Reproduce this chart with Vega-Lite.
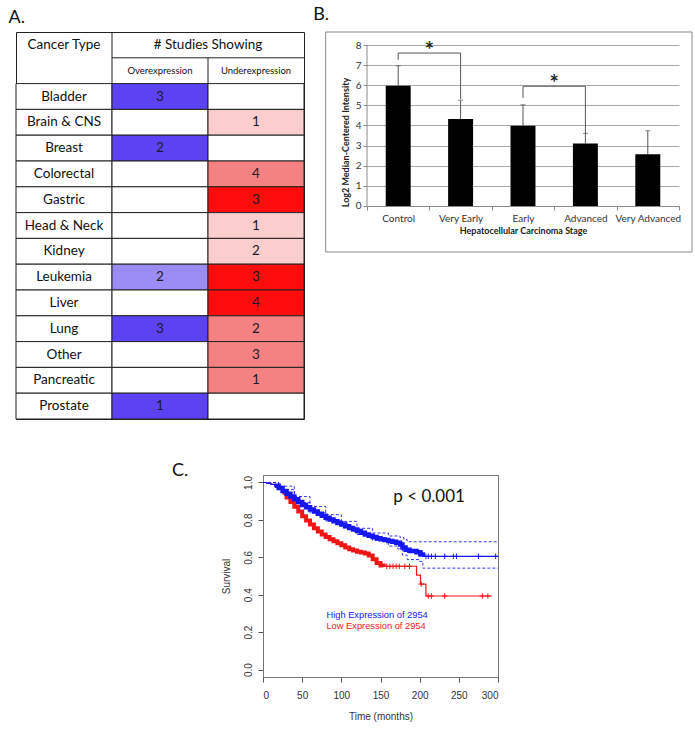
{
  "$schema": "https://vega.github.io/schema/vega-lite/v6.json",
  "background": "white",
  "padding": {"left": 8, "top": 5, "right": 0, "bottom": 0},
  "config": {"view": {"stroke": null}, "font": "Lato", "concat": {"spacing": 0}},
  "datasets": {
    "table": [
      {"type": "Bladder", "col": "Cancer Type", "n": null, "shade": "None"},
      {"type": "Bladder", "col": "Overexpression", "n": 3, "shade": "Over strong"},
      {"type": "Bladder", "col": "Underexpression", "n": null, "shade": "None"},
      {"type": "Brain & CNS", "col": "Cancer Type", "n": null, "shade": "None"},
      {"type": "Brain & CNS", "col": "Overexpression", "n": null, "shade": "None"},
      {"type": "Brain & CNS", "col": "Underexpression", "n": 1, "shade": "Under weak"},
      {"type": "Breast", "col": "Cancer Type", "n": null, "shade": "None"},
      {"type": "Breast", "col": "Overexpression", "n": 2, "shade": "Over strong"},
      {"type": "Breast", "col": "Underexpression", "n": null, "shade": "None"},
      {"type": "Colorectal", "col": "Cancer Type", "n": null, "shade": "None"},
      {"type": "Colorectal", "col": "Overexpression", "n": null, "shade": "None"},
      {"type": "Colorectal", "col": "Underexpression", "n": 4, "shade": "Under moderate"},
      {"type": "Gastric", "col": "Cancer Type", "n": null, "shade": "None"},
      {"type": "Gastric", "col": "Overexpression", "n": null, "shade": "None"},
      {"type": "Gastric", "col": "Underexpression", "n": 3, "shade": "Under strong"},
      {"type": "Head & Neck", "col": "Cancer Type", "n": null, "shade": "None"},
      {"type": "Head & Neck", "col": "Overexpression", "n": null, "shade": "None"},
      {"type": "Head & Neck", "col": "Underexpression", "n": 1, "shade": "Under weak"},
      {"type": "Kidney", "col": "Cancer Type", "n": null, "shade": "None"},
      {"type": "Kidney", "col": "Overexpression", "n": null, "shade": "None"},
      {"type": "Kidney", "col": "Underexpression", "n": 2, "shade": "Under weak"},
      {"type": "Leukemia", "col": "Cancer Type", "n": null, "shade": "None"},
      {"type": "Leukemia", "col": "Overexpression", "n": 2, "shade": "Over weak"},
      {"type": "Leukemia", "col": "Underexpression", "n": 3, "shade": "Under strong"},
      {"type": "Liver", "col": "Cancer Type", "n": null, "shade": "None"},
      {"type": "Liver", "col": "Overexpression", "n": null, "shade": "None"},
      {"type": "Liver", "col": "Underexpression", "n": 4, "shade": "Under strong"},
      {"type": "Lung", "col": "Cancer Type", "n": null, "shade": "None"},
      {"type": "Lung", "col": "Overexpression", "n": 3, "shade": "Over strong"},
      {"type": "Lung", "col": "Underexpression", "n": 2, "shade": "Under moderate"},
      {"type": "Other", "col": "Cancer Type", "n": null, "shade": "None"},
      {"type": "Other", "col": "Overexpression", "n": null, "shade": "None"},
      {"type": "Other", "col": "Underexpression", "n": 3, "shade": "Under moderate"},
      {"type": "Pancreatic", "col": "Cancer Type", "n": null, "shade": "None"},
      {"type": "Pancreatic", "col": "Overexpression", "n": null, "shade": "None"},
      {"type": "Pancreatic", "col": "Underexpression", "n": 1, "shade": "Under moderate"},
      {"type": "Prostate", "col": "Cancer Type", "n": null, "shade": "None"},
      {"type": "Prostate", "col": "Overexpression", "n": 1, "shade": "Over strong"},
      {"type": "Prostate", "col": "Underexpression", "n": null, "shade": "None"}
    ],
    "headcells": [
      {"label": "Cancer Type", "col": "Cancer Type", "row": "h1", "size": "big"},
      {"label": "Overexpression", "col": "Overexpression", "row": "h2", "size": "small"},
      {"label": "Underexpression", "col": "Underexpression", "row": "h2", "size": "small"}
    ],
    "stages": [
      {"stage": "Control", "mean": 5.98, "upper": 6.97},
      {"stage": "Very Early", "mean": 4.32, "upper": 5.26},
      {"stage": "Early", "mean": 3.99, "upper": 5.03},
      {"stage": "Advanced", "mean": 3.1, "upper": 3.61},
      {"stage": "Very Advanced", "mean": 2.57, "upper": 3.74}
    ],
    "brackets": [
      {"from": "Control", "to": "Very Early", "top": 7.6, "fromEnd": 7.27, "toEnd": 5.32, "mark": "*"},
      {"from": "Early", "to": "Advanced", "top": 5.95, "fromEnd": 5.37, "toEnd": 3.58, "mark": "*"}
    ],
    "km": [
      {"group": "High", "t": 0, "s": 1.0}, {"group": "High", "t": 5, "s": 0.995}, {"group": "High", "t": 10, "s": 0.99},
      {"group": "High", "t": 15, "s": 0.982}, {"group": "High", "t": 20, "s": 0.97}, {"group": "High", "t": 25, "s": 0.955},
      {"group": "High", "t": 30, "s": 0.94}, {"group": "High", "t": 35, "s": 0.925}, {"group": "High", "t": 40, "s": 0.91},
      {"group": "High", "t": 45, "s": 0.895}, {"group": "High", "t": 50, "s": 0.88}, {"group": "High", "t": 55, "s": 0.867},
      {"group": "High", "t": 60, "s": 0.855}, {"group": "High", "t": 65, "s": 0.845}, {"group": "High", "t": 70, "s": 0.833},
      {"group": "High", "t": 75, "s": 0.822}, {"group": "High", "t": 80, "s": 0.812}, {"group": "High", "t": 85, "s": 0.802},
      {"group": "High", "t": 90, "s": 0.793}, {"group": "High", "t": 95, "s": 0.784}, {"group": "High", "t": 100, "s": 0.776},
      {"group": "High", "t": 105, "s": 0.766}, {"group": "High", "t": 110, "s": 0.757}, {"group": "High", "t": 115, "s": 0.748},
      {"group": "High", "t": 120, "s": 0.74}, {"group": "High", "t": 125, "s": 0.731}, {"group": "High", "t": 130, "s": 0.722},
      {"group": "High", "t": 135, "s": 0.715}, {"group": "High", "t": 140, "s": 0.708}, {"group": "High", "t": 145, "s": 0.702},
      {"group": "High", "t": 150, "s": 0.697}, {"group": "High", "t": 155, "s": 0.692}, {"group": "High", "t": 160, "s": 0.687},
      {"group": "High", "t": 165, "s": 0.683}, {"group": "High", "t": 170, "s": 0.678}, {"group": "High", "t": 175, "s": 0.668},
      {"group": "High", "t": 178, "s": 0.652}, {"group": "High", "t": 182, "s": 0.64}, {"group": "High", "t": 187, "s": 0.634},
      {"group": "High", "t": 196, "s": 0.627}, {"group": "High", "t": 201, "s": 0.615}, {"group": "High", "t": 204, "s": 0.605},
      {"group": "High", "t": 300, "s": 0.605},
      {"group": "Low", "t": 0, "s": 1.0}, {"group": "Low", "t": 5, "s": 0.995}, {"group": "Low", "t": 10, "s": 0.99},
      {"group": "Low", "t": 15, "s": 0.98}, {"group": "Low", "t": 20, "s": 0.965}, {"group": "Low", "t": 25, "s": 0.945},
      {"group": "Low", "t": 30, "s": 0.92}, {"group": "Low", "t": 35, "s": 0.895}, {"group": "Low", "t": 40, "s": 0.87},
      {"group": "Low", "t": 45, "s": 0.845}, {"group": "Low", "t": 50, "s": 0.82}, {"group": "Low", "t": 55, "s": 0.797},
      {"group": "Low", "t": 60, "s": 0.775}, {"group": "Low", "t": 65, "s": 0.755}, {"group": "Low", "t": 70, "s": 0.738},
      {"group": "Low", "t": 75, "s": 0.722}, {"group": "Low", "t": 80, "s": 0.708}, {"group": "Low", "t": 85, "s": 0.697},
      {"group": "Low", "t": 90, "s": 0.686}, {"group": "Low", "t": 95, "s": 0.675}, {"group": "Low", "t": 100, "s": 0.665},
      {"group": "Low", "t": 105, "s": 0.652}, {"group": "Low", "t": 110, "s": 0.643}, {"group": "Low", "t": 115, "s": 0.636},
      {"group": "Low", "t": 120, "s": 0.63}, {"group": "Low", "t": 125, "s": 0.625}, {"group": "Low", "t": 130, "s": 0.62},
      {"group": "Low", "t": 135, "s": 0.61}, {"group": "Low", "t": 140, "s": 0.59}, {"group": "Low", "t": 145, "s": 0.57},
      {"group": "Low", "t": 150, "s": 0.556}, {"group": "Low", "t": 154, "s": 0.552}, {"group": "Low", "t": 193, "s": 0.552},
      {"group": "Low", "t": 196, "s": 0.505}, {"group": "Low", "t": 201, "s": 0.457}, {"group": "Low", "t": 208, "s": 0.393},
      {"group": "Low", "t": 292, "s": 0.393}
    ],
    "ci": [
      {"bound": "upper", "t": 0, "s": 1.0}, {"bound": "upper", "t": 20, "s": 0.98}, {"bound": "upper", "t": 40, "s": 0.925},
      {"bound": "upper", "t": 60, "s": 0.872}, {"bound": "upper", "t": 80, "s": 0.828}, {"bound": "upper", "t": 100, "s": 0.792},
      {"bound": "upper", "t": 120, "s": 0.755}, {"bound": "upper", "t": 140, "s": 0.73}, {"bound": "upper", "t": 160, "s": 0.714},
      {"bound": "upper", "t": 175, "s": 0.705}, {"bound": "upper", "t": 180, "s": 0.695}, {"bound": "upper", "t": 184, "s": 0.683},
      {"bound": "upper", "t": 300, "s": 0.683},
      {"bound": "lower", "t": 0, "s": 1.0}, {"bound": "lower", "t": 20, "s": 0.962}, {"bound": "lower", "t": 40, "s": 0.893},
      {"bound": "lower", "t": 60, "s": 0.838}, {"bound": "lower", "t": 80, "s": 0.795}, {"bound": "lower", "t": 100, "s": 0.758},
      {"bound": "lower", "t": 120, "s": 0.722}, {"bound": "lower", "t": 140, "s": 0.69}, {"bound": "lower", "t": 160, "s": 0.66},
      {"bound": "lower", "t": 172, "s": 0.645}, {"bound": "lower", "t": 178, "s": 0.612}, {"bound": "lower", "t": 184, "s": 0.588},
      {"bound": "lower", "t": 200, "s": 0.578}, {"bound": "lower", "t": 204, "s": 0.542}, {"bound": "lower", "t": 300, "s": 0.542}
    ],
    "censor": [
      {"group": "High", "t": 208, "s": 0.605}, {"group": "High", "t": 211, "s": 0.605}, {"group": "High", "t": 215, "s": 0.605},
      {"group": "High", "t": 220, "s": 0.605}, {"group": "High", "t": 232, "s": 0.605}, {"group": "High", "t": 243, "s": 0.605},
      {"group": "High", "t": 247, "s": 0.605}, {"group": "High", "t": 275, "s": 0.605}, {"group": "High", "t": 297, "s": 0.605},
      {"group": "Low", "t": 158, "s": 0.552}, {"group": "Low", "t": 162, "s": 0.552}, {"group": "Low", "t": 166, "s": 0.552},
      {"group": "Low", "t": 170, "s": 0.552}, {"group": "Low", "t": 174, "s": 0.552}, {"group": "Low", "t": 181, "s": 0.552},
      {"group": "Low", "t": 187, "s": 0.552}, {"group": "Low", "t": 202, "s": 0.457},
      {"group": "Low", "t": 211, "s": 0.393}, {"group": "Low", "t": 215, "s": 0.393}, {"group": "Low", "t": 232, "s": 0.393},
      {"group": "Low", "t": 280, "s": 0.393}, {"group": "Low", "t": 287, "s": 0.393}
    ],
    "legendtext": [
      {"group": "High", "t": 81, "s": 0.29, "label": "High Expression of 2954"},
      {"group": "Low", "t": 81, "s": 0.235, "label": "Low Expression of 2954"}
    ],
    "pvalue": [{"t": 212, "s": 0.92, "label": "p < 0.001"}]
  },
  "spacing": 41,
  "vconcat": [
    {
      "spacing": 8,
      "hconcat": [
        {
          "title": {"text": "A.", "anchor": "start", "fontSize": 18, "fontWeight": "normal", "font": "Lato", "color": "#111", "offset": -9, "dx": -7, "baseline": "alphabetic"},
          "width": 288, "height": 387,
          "view": {"stroke": "#222"},
          "encoding": {
            "x": {"field": "col", "type": "nominal", "axis": null, "scale": {"domain": ["Cancer Type", "Overexpression", "Underexpression"], "paddingInner": 0, "paddingOuter": 0}},
            "y": {"field": "type", "type": "nominal", "axis": null, "sort": null, "scale": {"domain": ["h1", "h2", "Bladder", "Brain & CNS", "Breast", "Colorectal", "Gastric", "Head & Neck", "Kidney", "Leukemia", "Liver", "Lung", "Other", "Pancreatic", "Prostate"], "paddingInner": 0, "paddingOuter": 0}}
          },
          "layer": [
            {
              "data": {"name": "table"},
              "mark": {"type": "rect", "stroke": "#222", "strokeWidth": 1},
              "encoding": {
                "fill": {"field": "shade", "type": "nominal", "legend": null, "scale": {"domain": ["None", "Over strong", "Over weak", "Under strong", "Under moderate", "Under weak"], "range": ["#ffffff", "#5b43f4", "#9b8cf5", "#ff0c0c", "#f58282", "#fccdcd"]}}
              }
            },
            {
              "data": {"name": "table"},
              "transform": [{"filter": "datum.col === 'Cancer Type'"}],
              "mark": {"type": "text", "fontSize": 13.5, "color": "#111", "font": "Lato"},
              "encoding": {"text": {"field": "type"}}
            },
            {
              "data": {"name": "table"},
              "transform": [{"filter": "datum.n != null"}],
              "mark": {"type": "text", "fontSize": 13.5, "color": "#1a1a2a", "font": "Lato"},
              "encoding": {"text": {"field": "n", "type": "quantitative"}}
            },
            {
              "data": {"values": [{"line": "header divider 1"}]},
              "mark": {"type": "rule", "color": "#222", "strokeWidth": 1},
              "encoding": {
                "x": {"datum": "Overexpression", "type": "nominal", "bandPosition": 0},
                "y": {"datum": "h1", "type": "nominal", "bandPosition": 0},
                "y2": {"datum": "h2", "bandPosition": 1}
              }
            },
            {
              "data": {"values": [{"line": "header divider 2"}]},
              "mark": {"type": "rule", "color": "#222", "strokeWidth": 1},
              "encoding": {
                "x": {"datum": "Overexpression", "type": "nominal", "bandPosition": 0},
                "x2": {"datum": "Underexpression", "bandPosition": 1},
                "y": {"datum": "h2", "type": "nominal", "bandPosition": 0}
              }
            },
            {
              "data": {"values": [{"line": "header divider 3"}]},
              "mark": {"type": "rule", "color": "#222", "strokeWidth": 1},
              "encoding": {
                "x": {"datum": "Underexpression", "type": "nominal", "bandPosition": 0},
                "y": {"datum": "h2", "type": "nominal", "bandPosition": 0},
                "y2": {"datum": "h2", "bandPosition": 1}
              }
            },
            {
              "data": {"name": "headcells"},
              "transform": [{"filter": "datum.size === 'big'"}],
              "mark": {"type": "text", "fontSize": 13.5, "color": "#111", "font": "Lato"},
              "encoding": {
                "x": {"field": "col", "type": "nominal"},
                "y": {"field": "row", "type": "nominal"},
                "text": {"field": "label"}
              }
            },
            {
              "data": {"name": "headcells"},
              "transform": [{"filter": "datum.size === 'small'"}],
              "mark": {"type": "text", "fontSize": 9.5, "color": "#111", "font": "Lato"},
              "encoding": {
                "x": {"field": "col", "type": "nominal"},
                "y": {"field": "row", "type": "nominal"},
                "text": {"field": "label"}
              }
            },
            {
              "data": {"values": [{"label": "# Studies Showing"}]},
              "mark": {"type": "text", "fontSize": 13.5, "color": "#111", "font": "Lato"},
              "encoding": {
                "x": {"datum": "Overexpression", "type": "nominal", "bandPosition": 1},
                "y": {"datum": "h1", "type": "nominal", "bandPosition": 0.5},
                "text": {"field": "label"}
              }
            }
          ]
        },
        {
          "title": {"text": "B.", "anchor": "start", "fontSize": 18, "fontWeight": "normal", "font": "Lato", "color": "#111", "offset": -6, "dx": -12, "baseline": "alphabetic"},
          "width": 312, "height": 220,
          "layer": [
            {
              "data": {"values": [{"box": "frame"}]},
              "mark": {"type": "rect", "fillOpacity": 0, "stroke": "#8a8a8a", "strokeWidth": 1},
              "encoding": {
                "x": {"datum": "Control", "type": "nominal", "bandPosition": -0.662,
                  "scale": {"domain": ["Control", "Very Early", "Early", "Advanced", "Very Advanced"], "paddingInner": 0, "paddingOuter": 0},
                  "axis": {"title": "Hepatocellular Carcinoma Stage", "offset": -46, "labelAngle": 0, "labelFontSize": 10, "labelColor": "#333", "labelFont": "Lato", "titleFont": "Lato", "titleFontSize": 9, "titleFontWeight": "bold", "titleColor": "#222", "domainColor": "#8a8a8a", "tickColor": "#8a8a8a", "tickBand": "extent", "tickSize": 4, "labelPadding": 3, "titlePadding": 3}},
                "x2": {"datum": "Very Advanced", "bandPosition": 1.208},
                "y": {"datum": 8.646, "type": "quantitative",
                  "scale": {"domain": [-2.286, 8.646], "nice": false, "zero": false},
                  "axis": {"title": "Log2 Median-Centered Intensity", "values": [0, 1, 2, 3, 4, 5, 6, 7, 8], "domain": false, "grid": true, "gridColor": "#a8a8a8", "tickColor": "#8a8a8a", "tickSize": 4, "labelFontSize": 10, "labelColor": "#333", "labelFont": "Lato", "titleFont": "Lato", "titleFontSize": 9, "titleFontWeight": "bold", "titleColor": "#222", "titlePadding": 5}},
                "y2": {"datum": -2.286}
              }
            },
            {
              "data": {"values": [{"axisline": "y"}]},
              "mark": {"type": "rule", "color": "#8a8a8a", "strokeWidth": 1},
              "encoding": {
                "x": {"datum": "Control", "type": "nominal", "bandPosition": 0},
                "y": {"datum": 0, "type": "quantitative", "axis": {"title": "Log2 Median-Centered Intensity", "values": [0, 1, 2, 3, 4, 5, 6, 7, 8], "domain": false, "grid": true}},
                "y2": {"datum": 8}
              }
            },
            {
              "data": {"name": "stages"},
              "mark": {"type": "bar", "color": "black", "width": {"band": 0.4}},
              "encoding": {
                "x": {"field": "stage", "type": "nominal", "sort": null},
                "y": {"field": "mean", "type": "quantitative", "axis": {"title": "Log2 Median-Centered Intensity", "values": [0, 1, 2, 3, 4, 5, 6, 7, 8], "domain": false, "grid": true}}
              }
            },
            {
              "data": {"name": "stages"},
              "mark": {"type": "rule", "color": "#555", "strokeWidth": 1},
              "encoding": {
                "x": {"field": "stage", "type": "nominal", "bandPosition": 0.5},
                "y": {"field": "mean", "type": "quantitative", "axis": {"title": "Log2 Median-Centered Intensity", "values": [0, 1, 2, 3, 4, 5, 6, 7, 8], "domain": false, "grid": true}},
                "y2": {"field": "upper"}
              }
            },
            {
              "data": {"name": "stages"},
              "mark": {"type": "tick", "color": "#555", "size": 5, "thickness": 1},
              "encoding": {
                "x": {"field": "stage", "type": "nominal"},
                "y": {"field": "upper", "type": "quantitative", "axis": {"title": "Log2 Median-Centered Intensity", "values": [0, 1, 2, 3, 4, 5, 6, 7, 8], "domain": false, "grid": true}}
              }
            },
            {
              "data": {"name": "brackets"},
              "mark": {"type": "rule", "color": "#555", "strokeWidth": 1},
              "encoding": {
                "x": {"field": "from", "type": "nominal", "bandPosition": 0.5},
                "x2": {"field": "to", "bandPosition": 0.5},
                "y": {"field": "top", "type": "quantitative", "axis": {"title": "Log2 Median-Centered Intensity", "values": [0, 1, 2, 3, 4, 5, 6, 7, 8], "domain": false, "grid": true}}
              }
            },
            {
              "data": {"name": "brackets"},
              "mark": {"type": "rule", "color": "#555", "strokeWidth": 1},
              "encoding": {
                "x": {"field": "from", "type": "nominal", "bandPosition": 0.5},
                "y": {"field": "top", "type": "quantitative", "axis": {"title": "Log2 Median-Centered Intensity", "values": [0, 1, 2, 3, 4, 5, 6, 7, 8], "domain": false, "grid": true}},
                "y2": {"field": "fromEnd"}
              }
            },
            {
              "data": {"name": "brackets"},
              "mark": {"type": "rule", "color": "#555", "strokeWidth": 1},
              "encoding": {
                "x": {"field": "to", "type": "nominal", "bandPosition": 0.5},
                "y": {"field": "top", "type": "quantitative", "axis": {"title": "Log2 Median-Centered Intensity", "values": [0, 1, 2, 3, 4, 5, 6, 7, 8], "domain": false, "grid": true}},
                "y2": {"field": "toEnd"}
              }
            },
            {
              "data": {"name": "brackets"},
              "mark": {"type": "text", "fontSize": 22, "fontWeight": "bold", "color": "#222", "baseline": "alphabetic", "dy": 5, "font": "Lato"},
              "encoding": {
                "x": {"field": "from", "type": "nominal", "bandPosition": 1},
                "y": {"field": "top", "type": "quantitative", "axis": {"title": "Log2 Median-Centered Intensity", "values": [0, 1, 2, 3, 4, 5, 6, 7, 8], "domain": false, "grid": true}},
                "text": {"field": "mark"}
              }
            }
          ]
        }
      ]
    },
    {
      "spacing": 0,
      "hconcat": [
        {
          "width": 155, "height": 10,
          "data": {"values": []},
          "mark": {"type": "point", "opacity": 0},
          "encoding": {}
        },
        {
          "title": {"text": "C.", "anchor": "start", "frame": "group", "fontSize": 18, "fontWeight": "normal", "font": "Lato", "color": "#111", "offset": -19, "dx": -91, "baseline": "alphabetic"},
          "width": 235, "height": 202,
          "view": {"stroke": "#777"},
          "encoding": {
            "x": {"field": "t", "type": "quantitative", "scale": {"domain": [0, 300], "nice": false},
              "axis": {"title": "Time (months)", "values": [0, 50, 100, 150, 200, 250, 300], "grid": false, "domainColor": "#777", "tickColor": "#555", "tickSize": 5, "labelFont": "Liberation Sans", "labelFontSize": 10, "labelColor": "#333", "labelPadding": 8, "titleFont": "Liberation Sans", "titleFontSize": 10, "titleFontWeight": "normal", "titleColor": "#333", "titlePadding": 11}},
            "y": {"field": "s", "type": "quantitative", "scale": {"domain": [-0.04, 1.04], "nice": false, "zero": false},
              "axis": {"title": "Survival", "values": [0, 0.2, 0.4, 0.6, 0.8, 1.0], "format": ".1f", "grid": false, "labelAngle": -90, "domainColor": "#777", "tickColor": "#555", "tickSize": 5, "labelFont": "Liberation Sans", "labelFontSize": 10, "labelColor": "#333", "labelPadding": 5, "titleFont": "Liberation Sans", "titleFontSize": 10, "titleFontWeight": "normal", "titleColor": "#333", "titlePadding": 12}}
          },
          "layer": [
            {
              "data": {"name": "ci"},
              "mark": {"type": "line", "interpolate": "step-after", "color": "#2222ee", "strokeWidth": 0.9, "strokeDash": [3, 2]},
              "encoding": {"detail": {"field": "bound", "type": "nominal"}}
            },
            {
              "data": {"name": "km"},
              "transform": [{"filter": "datum.group === 'Low'"}],
              "mark": {"type": "line", "interpolate": "step-after", "strokeWidth": 1.2},
              "encoding": {"color": {"field": "group", "type": "nominal", "legend": null, "scale": {"domain": ["High", "Low"], "range": ["#1616f0", "#f01616"]}}}
            },
            {
              "data": {"name": "km"},
              "transform": [{"filter": "datum.group === 'Low' && datum.t >= 25 && datum.t <= 154"}],
              "mark": {"type": "line", "interpolate": "step-after", "strokeWidth": 4},
              "encoding": {"color": {"field": "group", "type": "nominal", "legend": null}}
            },
            {
              "data": {"name": "km"},
              "transform": [{"filter": "datum.group === 'High'"}],
              "mark": {"type": "line", "interpolate": "step-after", "strokeWidth": 1.2},
              "encoding": {"color": {"field": "group", "type": "nominal", "legend": null}}
            },
            {
              "data": {"name": "km"},
              "transform": [{"filter": "datum.group === 'High' && datum.t >= 15 && datum.t <= 204"}],
              "mark": {"type": "line", "interpolate": "step-after", "strokeWidth": 4.5},
              "encoding": {"color": {"field": "group", "type": "nominal", "legend": null}}
            },
            {
              "data": {"name": "censor"},
              "mark": {"type": "point", "shape": "M-1,0H1M0,-1V1", "filled": false, "strokeWidth": 1, "size": 30, "opacity": 1},
              "encoding": {"color": {"field": "group", "type": "nominal", "legend": null}}
            },
            {
              "data": {"name": "legendtext"},
              "mark": {"type": "text", "align": "left", "baseline": "middle", "font": "Liberation Sans", "fontSize": 9.3},
              "encoding": {"text": {"field": "label"}, "color": {"field": "group", "type": "nominal", "legend": null}}
            },
            {
              "data": {"name": "pvalue"},
              "mark": {"type": "text", "align": "center", "baseline": "middle", "font": "Lato", "fontSize": 17, "color": "#111"},
              "encoding": {"text": {"field": "label"}}
            }
          ]
        }
      ]
    }
  ]
}
